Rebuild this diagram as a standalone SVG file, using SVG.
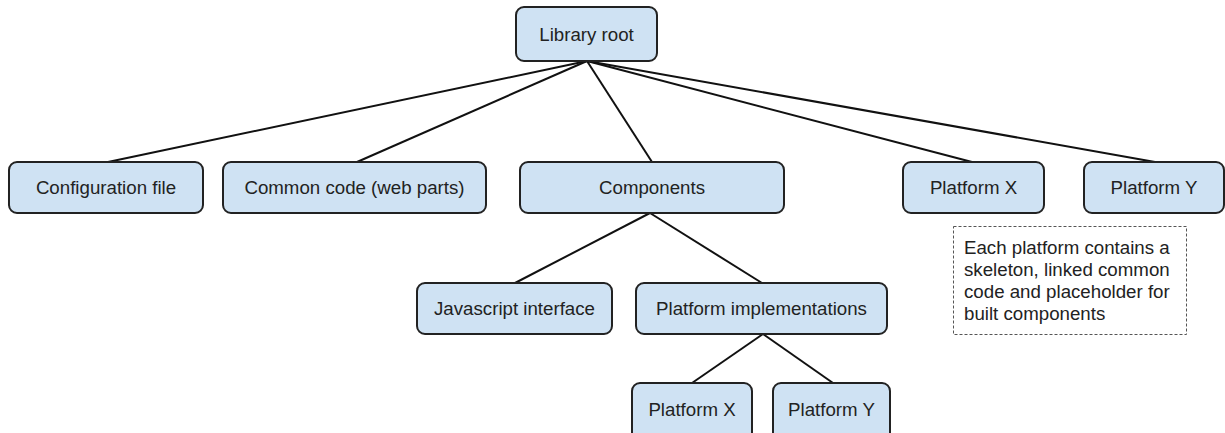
<svg xmlns="http://www.w3.org/2000/svg" width="1225" height="433" viewBox="0 0 1225 433">
  <style>
    .box { fill: #cfe2f3; stroke: #222; stroke-width: 2; }
    .lbl { font-family: "Liberation Sans", Arial, sans-serif; font-size: 18.7px; fill: #222; text-anchor: middle; }
    .note { font-family: "Liberation Sans", Arial, sans-serif; font-size: 18.7px; fill: #222; }
    .edge { stroke: #111; stroke-width: 2; fill: none; }
    .dash { fill: none; stroke: #555; stroke-width: 1; stroke-dasharray: 3 2; }
  </style>
  <rect width="1225" height="433" fill="#ffffff"/>

  <g id="connectors">
    <line class="edge" x1="587" y1="61" x2="108" y2="162"/>
    <line class="edge" x1="587" y1="61" x2="357" y2="162"/>
    <line class="edge" x1="587" y1="61" x2="652" y2="162"/>
    <line class="edge" x1="587" y1="61" x2="972" y2="162"/>
    <line class="edge" x1="587" y1="61" x2="1155" y2="162"/>
    <line class="edge" x1="650" y1="213" x2="515" y2="283"/>
    <line class="edge" x1="650" y1="213" x2="762" y2="283"/>
    <line class="edge" x1="763" y1="334" x2="692" y2="383"/>
    <line class="edge" x1="763" y1="334" x2="833" y2="383"/>
  </g>

  <g id="library-root">
    <rect class="box" x="516" y="7" width="141" height="54" rx="8"/>
    <text class="lbl" x="586.5" y="41">Library root</text>
  </g>
  <g id="configuration-file">
    <rect class="box" x="9" y="162" width="194" height="51" rx="8"/>
    <text class="lbl" x="106" y="194">Configuration file</text>
  </g>
  <g id="common-code">
    <rect class="box" x="223" y="162" width="263" height="51" rx="8"/>
    <text class="lbl" x="354.5" y="194">Common code (web parts)</text>
  </g>
  <g id="components">
    <rect class="box" x="520" y="162" width="264" height="51" rx="8"/>
    <text class="lbl" x="652" y="194">Components</text>
  </g>
  <g id="platform-x-top">
    <rect class="box" x="903" y="162" width="141" height="51" rx="8"/>
    <text class="lbl" x="973.5" y="194">Platform X</text>
  </g>
  <g id="platform-y-top">
    <rect class="box" x="1084" y="162" width="140" height="51" rx="8"/>
    <text class="lbl" x="1154" y="194">Platform Y</text>
  </g>
  <g id="platform-note">
    <rect class="dash" x="953.5" y="226.5" width="233" height="108"/>
    <text class="note" x="964" y="254">Each platform contains a</text>
    <text class="note" x="964" y="276">skeleton, linked common</text>
    <text class="note" x="964" y="298">code and placeholder for</text>
    <text class="note" x="964" y="320">built components</text>
  </g>
  <g id="javascript-interface">
    <rect class="box" x="417" y="283" width="195" height="51" rx="8"/>
    <text class="lbl" x="514.5" y="315">Javascript interface</text>
  </g>
  <g id="platform-implementations">
    <rect class="box" x="636" y="283" width="251" height="51" rx="8"/>
    <text class="lbl" x="761.5" y="315">Platform implementations</text>
  </g>
  <g id="platform-x-impl">
    <rect class="box" x="632" y="383" width="120" height="58" rx="8"/>
    <text class="lbl" x="692" y="416">Platform X</text>
  </g>
  <g id="platform-y-impl">
    <rect class="box" x="773" y="383" width="117" height="58" rx="8"/>
    <text class="lbl" x="831.5" y="416">Platform Y</text>
  </g>
</svg>
